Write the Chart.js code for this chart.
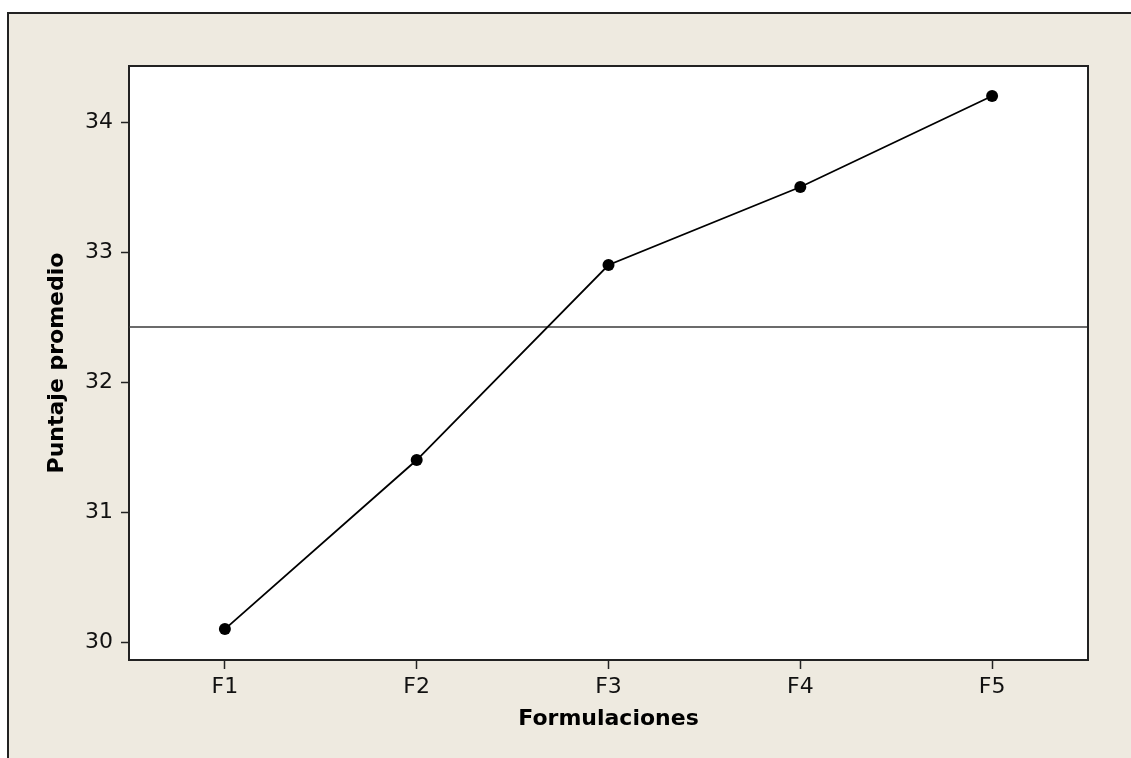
<!DOCTYPE html>
<html>
<head>
<meta charset="utf-8">
<script src="https://cdn.jsdelivr.net/npm/chart.js@4.4.1/dist/chart.umd.min.js"></script>
<style>
  html, body { margin: 0; padding: 0; background: #ffffff; }
  #wrap { position: relative; width: 1131px; height: 758px; overflow: hidden; }
  #frame {
    position: absolute; left: 7px; top: 12px; width: 1200px; height: 800px;
    background: #EEEAE0; border-left: 2px solid #222; border-top: 2px solid #222;
  }
  #c { position: absolute; left: 0; top: 0; }
</style>
</head>
<body>
<div id="wrap">
  <div id="frame"></div>
  <canvas id="c" width="1131" height="758"></canvas>
</div>
<script>
// Formulation means
const categories = ['F1', 'F2', 'F3', 'F4', 'F5'];
const puntajePromedio = [30.1, 31.4, 32.9, 33.5, 34.2];
const mediaGeneral = 32.42;
const yTicks = [30, 31, 32, 33, 34];

const fontFamily = '"DejaVu Sans", Verdana, sans-serif';

// White plot area, closing box, and horizontal reference line at the grand mean
const plotBox = {
  id: 'plotBox',
  beforeDraw(chart) {
    const { ctx, chartArea: a } = chart;
    ctx.save();
    ctx.fillStyle = '#ffffff';
    ctx.fillRect(a.left, a.top, a.right - a.left, a.bottom - a.top);
    ctx.restore();
  },
  beforeDatasetsDraw(chart) {
    const { ctx, chartArea: a, scales: { y } } = chart;
    const yy = Math.round(y.getPixelForValue(mediaGeneral));
    ctx.save();
    ctx.strokeStyle = '#3a3a3a';
    ctx.lineWidth = 1.6;
    ctx.beginPath();
    ctx.moveTo(a.left, yy);
    ctx.lineTo(a.right, yy);
    ctx.stroke();
    ctx.restore();
  },
  afterDraw(chart) {
    const { ctx, chartArea: a } = chart;
    ctx.save();
    ctx.strokeStyle = '#222222';
    ctx.lineWidth = 2;
    ctx.beginPath();
    ctx.moveTo(a.left, a.top);
    ctx.lineTo(a.right, a.top);
    ctx.lineTo(a.right, a.bottom);
    ctx.stroke();
    ctx.restore();
  }
};

new Chart(document.getElementById('c'), {
  type: 'line',
  data: {
    labels: categories,
    datasets: [{
      data: puntajePromedio,
      borderColor: '#000000',
      borderWidth: 1.8,
      backgroundColor: '#000000',
      pointRadius: 6,
      pointBackgroundColor: '#000000',
      pointBorderWidth: 0,
      tension: 0,
      fill: false
    }]
  },
  options: {
    responsive: false,
    animation: false,
    layout: { padding: { left: 0, top: 66, right: 43, bottom: 0 } },
    plugins: { legend: { display: false }, tooltip: { enabled: false } },
    scales: {
      x: {
        type: 'category',
        offset: true,
        grid: { drawOnChartArea: false, drawTicks: true, tickLength: 9, tickColor: '#222', tickWidth: 1.5, offset: false },
        border: { display: true, color: '#222', width: 2 },
        ticks: { color: '#111', padding: 5, font: { family: fontFamily, size: 22 } },
        title: { display: true, text: 'Formulaciones', color: '#000',
                 padding: { top: 0, bottom: 26 },
                 font: { family: fontFamily, size: 22, weight: 'bold' } },
        afterFit(scale) { scale.height = 98; }
      },
      y: {
        min: 29.862,
        max: 34.431,
        afterBuildTicks(scale) { scale.ticks = yTicks.map(v => ({ value: v })); },
        grid: { drawOnChartArea: false, drawTicks: true, tickLength: 8, tickColor: '#222', tickWidth: 1.5 },
        border: { display: true, color: '#222', width: 2 },
        ticks: { color: '#111', padding: 8, font: { family: fontFamily, size: 22 } },
        title: { display: true, text: 'Puntaje promedio', color: '#000',
                 padding: { top: 44, bottom: 0 },
                 font: { family: fontFamily, size: 22, weight: 'bold' } },
        afterFit(scale) { scale.width = 129; }
      }
    }
  },
  plugins: [plotBox]
});
</script>
</body>
</html>
